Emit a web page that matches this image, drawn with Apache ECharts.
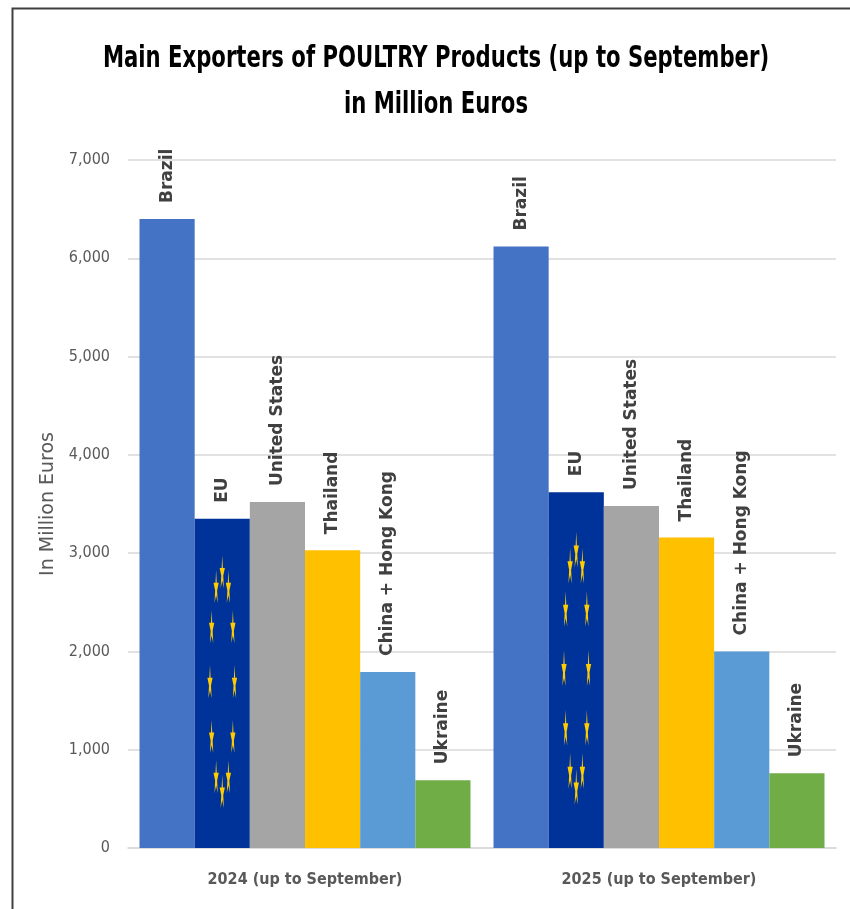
<!DOCTYPE html>
<html>
<head>
<meta charset="utf-8">
<script src="https://cdn.jsdelivr.net/npm/echarts@6/dist/echarts.min.js"></script>
<style>
  html, body { margin: 0; padding: 0; background: #fff; }
  #chart-panel { width: 850px; height: 909px; }
</style>
</head>
<body>
<div id="chart-panel"></div>
<script>
var titleLines = ['Main Exporters of POULTRY Products (up to September)', 'in Million Euros']
var periods = ['2024 (up to September)', '2025 (up to September)']
var exporters = ['Brazil', 'EU', 'United States', 'Thailand', 'China + Hong Kong', 'Ukraine']
var colors = ['#4472C4', '#003399', '#A5A5A5', '#FFC000', '#5B9BD5', '#70AD47']
var brazil = [6400, 6120]
var eu = [3350, 3620]
var unitedStates = [3520, 3480]
var thailand = [3030, 3160]
var chinaHongKong = [1790, 2000]
var ukraine = [690, 760]
var values = [brazil, eu, unitedStates, thailand, chinaHongKong, ukraine]

var narrow = '"DejaVu Sans Condensed", "Liberation Sans Narrow", sans-serif'
var catGap = 0.065

// five point star, stretched like the flag image in the bar
function starPoints(cx, cy, rx, ry) {
    var pts = []
    for (var i = 0; i < 10; i++) {
        var a = i * Math.PI / 5
        var f = i % 2 === 0 ? 1 : 0.382
        pts.push([cx + rx * f * Math.sin(a), cy - ry * f * Math.cos(a)])
    }
    return pts
}

var series = exporters.map(function (name, i) {
    return {
        name: name,
        type: 'bar',
        data: values[i],
        barGap: '0%',
        barCategoryGap: (catGap * 100) + '%',
        itemStyle: { color: colors[i] },
        label: {
            show: true,
            position: 'top',
            rotate: 90,
            align: 'left',
            verticalAlign: 'middle',
            distance: 16,
            formatter: '{a}',
            color: '#404040',
            fontFamily: '"DejaVu Sans", Verdana, sans-serif',
            fontWeight: 'bold',
            fontSize: 17
        }
    }
})

series.push({
    type: 'custom',
    silent: true,
    z: 5,
    data: eu.map(function (v, i) { return [i, v] }),
    renderItem: function (params, api) {
        var top = api.coord([api.value(0), api.value(1)])
        var base = api.coord([api.value(0), 0])
        var band = api.size([1, 0])[0]
        var used = band * (1 - catGap)
        var w = used / exporters.length
        var x0 = top[0] - used / 2 + w
        var cx = x0 + w / 2
        var h = base[1] - top[1]
        var cy = top[1] + h / 2
        var children = []
        for (var k = 0; k < 12; k++) {
            var a = k * Math.PI / 6
            var sx = cx + (2 * w / 9) * Math.sin(a)
            var sy = cy - (h / 3) * Math.cos(a)
            children.push({
                type: 'polygon',
                shape: { points: starPoints(sx, sy, w / 20, h / 18) },
                style: { fill: '#FFCC00' }
            })
        }
        return { type: 'group', children: children }
    }
})

var chartOption = {
    backgroundColor: '#fff',
    animation: false,
    grid: {
        left: 128,
        right: 14,
        top: 160,
        bottom: 61,
        containLabel: false
    },
    xAxis: {
        type: 'category',
        data: periods,
        axisLine: { lineStyle: { color: '#D9D9D9', width: 1.5 } },
        axisTick: { show: false },
        axisLabel: {
            margin: 24,
            color: '#595959',
            fontFamily: narrow,
            fontWeight: 'bold',
            fontSize: 16
        }
    },
    yAxis: {
        type: 'value',
        min: 0,
        max: 7000,
        interval: 1000,
        name: 'In Million Euros',
        nameLocation: 'middle',
        nameGap: 62,
        nameTextStyle: {
            color: '#595959',
            fontFamily: '"DejaVu Sans", sans-serif',
            fontSize: 19
        },
        axisLine: { show: false },
        axisTick: { show: false },
        splitLine: { lineStyle: { color: '#D9D9D9', width: 1.5 } },
        axisLabel: {
            margin: 18,
            color: '#595959',
            fontFamily: narrow,
            fontSize: 16,
            formatter: function (v) { return v.toLocaleString('en-US') }
        }
    },
    graphic: [{
        type: 'rect',
        silent: true,
        shape: { x: 12.5, y: 8.5, width: 1000, height: 1000 },
        style: { fill: 'none', stroke: '#404040', lineWidth: 2 }
    }, {
        // chart title, squeezed to match the narrow bold face of the original
        type: 'text',
        silent: true,
        x: 436,
        y: 36,
        scaleX: 0.76,
        style: {
            text: titleLines.join('\n'),
            textAlign: 'center',
            textVerticalAlign: 'top',
            font: 'bold 31px ' + narrow,
            lineHeight: 46,
            fill: '#000'
        }
    }],
    series: series
}

var chartPanel = document.getElementById('chart-panel')
var myChart = echarts.init(chartPanel)
myChart.setOption(chartOption)
</script>
</body>
</html>
